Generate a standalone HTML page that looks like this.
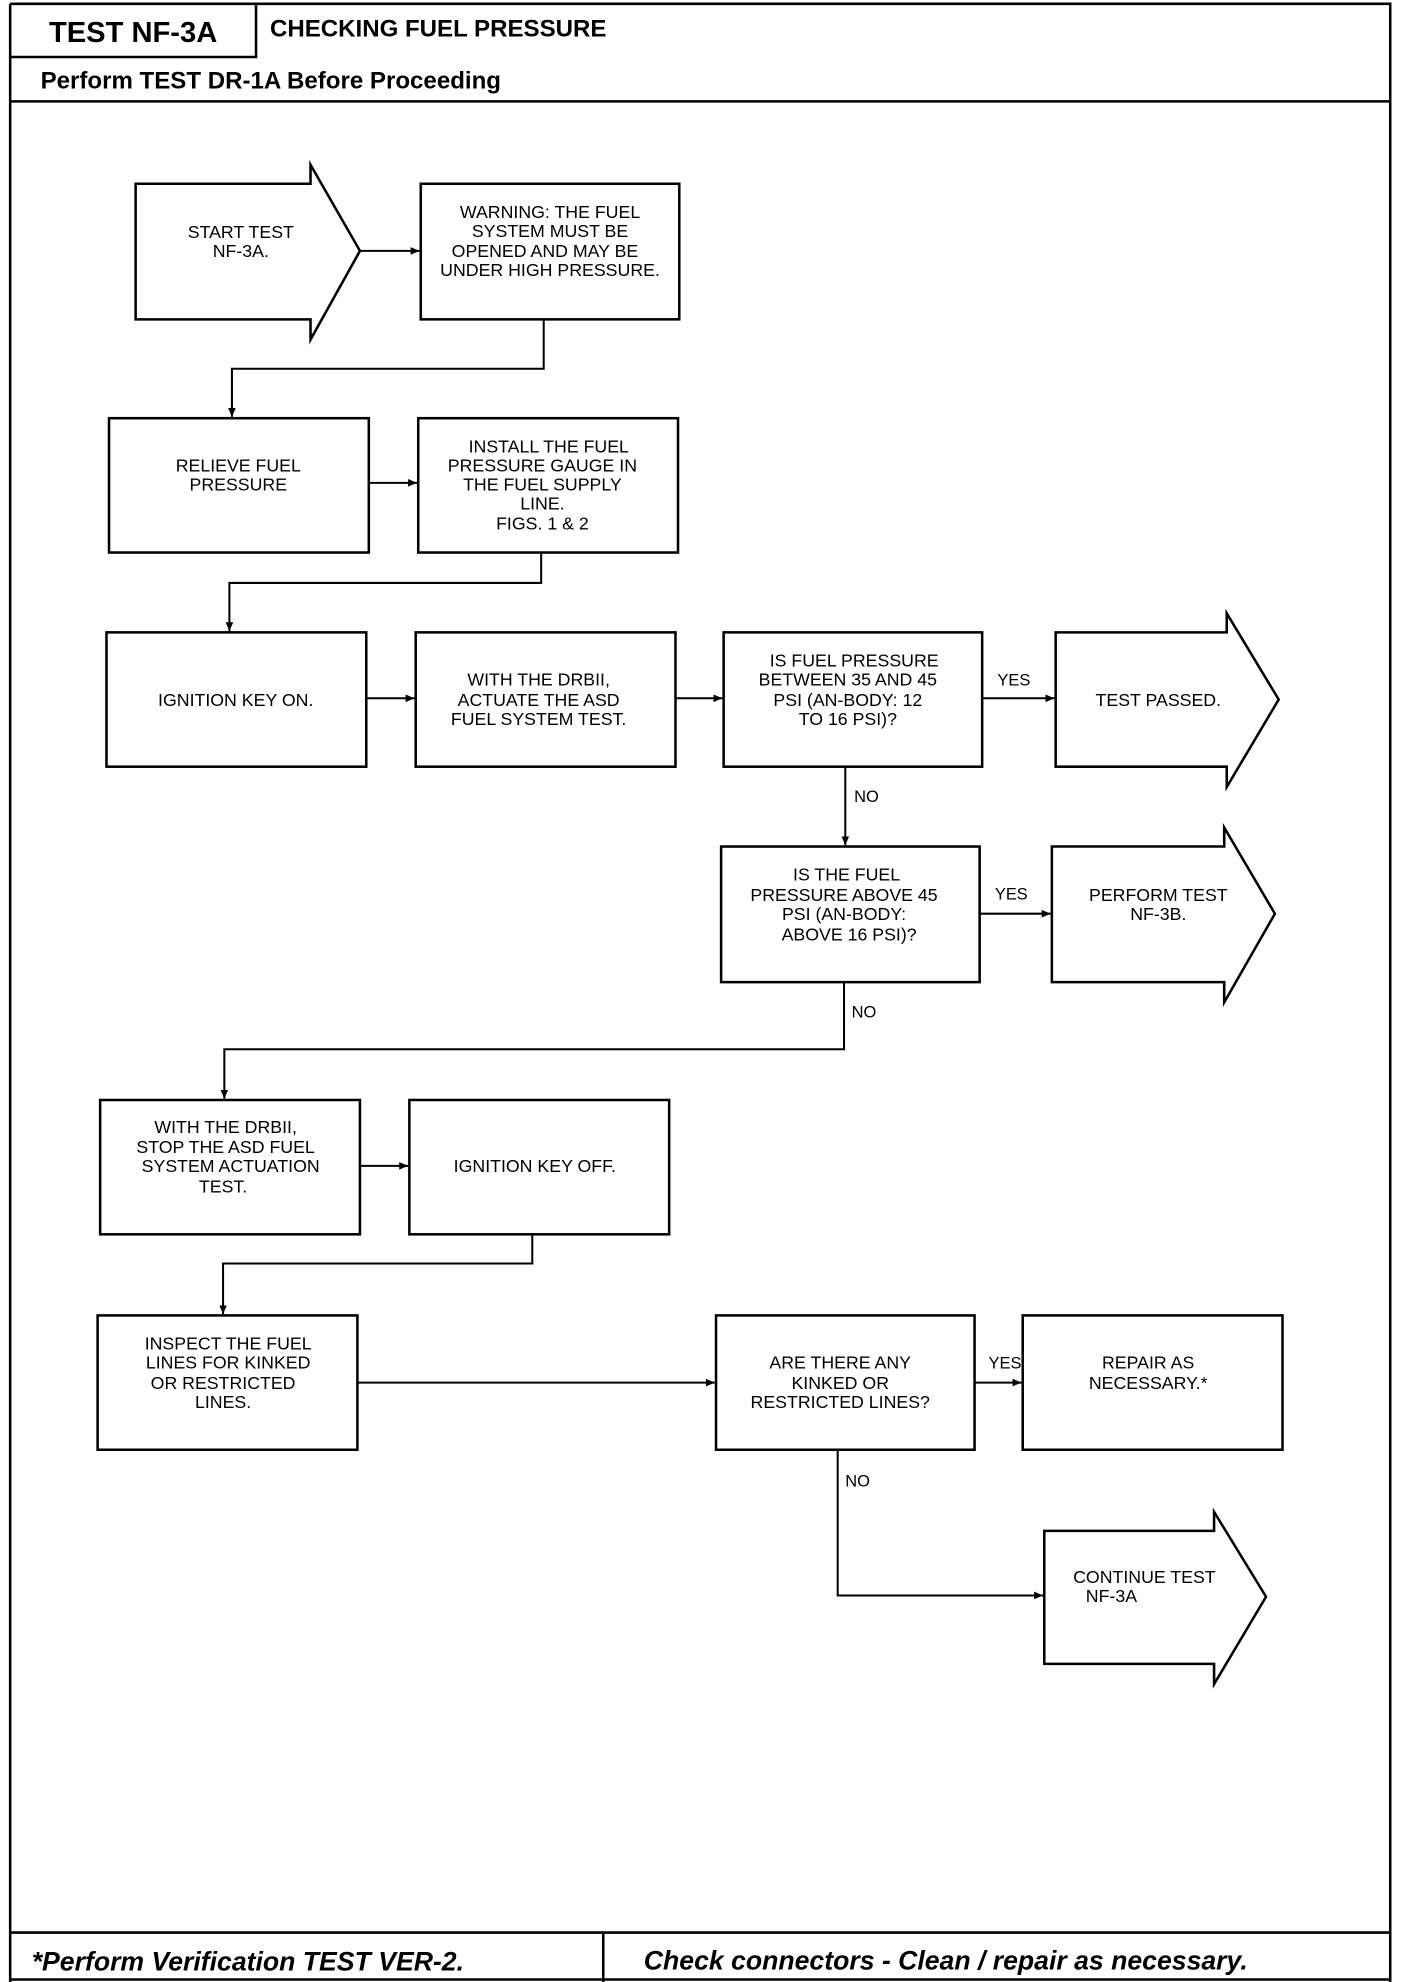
<!DOCTYPE html>
<html><head><meta charset="utf-8"><style>
html,body{margin:0;padding:0;background:#fff}
svg{display:block}
.t{font-family:"Liberation Sans Narrow","Liberation Sans",sans-serif;font-size:14px;text-anchor:middle;fill:#000}
.l{font-family:"Liberation Sans",sans-serif;font-size:13px;fill:#000}
</style></head><body>
<svg width="1408" height="1982" viewBox="0 0 1111 1564" xmlns="http://www.w3.org/2000/svg">
<defs><marker id="a" markerWidth="8" markerHeight="8" refX="7" refY="4" orient="auto" markerUnits="userSpaceOnUse"><path d="M0,1 L7,4 L0,7 z" fill="#000"/></marker></defs>
<g fill="none" stroke="#000" stroke-width="2">
<!-- frame -->
<path d="M8,3 H1097 V1564 M8,3 V1564 M8,45 H202 V3 M8,80 H1097 M8,1525 H1097 M476,1525 V1564 M8,1562 H1097"/>
<!-- shapes -->
<path d="M107,145 H245 V130 L284,198 L245,268 V252 H107 Z"/>
<rect x="332" y="145" width="204" height="107"/>
<rect x="86" y="330" width="205" height="106"/>
<rect x="330" y="330" width="205" height="106"/>
<rect x="84" y="499" width="205" height="106"/>
<rect x="328" y="499" width="205" height="106"/>
<rect x="571" y="499" width="204" height="106"/>
<path d="M833,499 H968 V484 L1009,552 L968,621 V605 H833 Z"/>
<rect x="569" y="668" width="204" height="107"/>
<path d="M830,668 H966 V653 L1006,721 L966,791 V775 H830 Z"/>
<rect x="79" y="868" width="205" height="106"/>
<rect x="323" y="868" width="205" height="106"/>
<rect x="77" y="1038" width="205" height="106"/>
<rect x="565" y="1038" width="204" height="106"/>
<rect x="807" y="1038" width="205" height="106"/>
<path d="M824,1208 H958 V1193 L999,1260 L958,1329 V1313 H824 Z"/>
</g>
<g fill="none" stroke="#000" stroke-width="1.6" marker-end="url(#a)">
<path d="M284,198 H331"/>
<path d="M429,252 V291 H183 V329"/>
<path d="M291,381 H329"/>
<path d="M427,436 V460 H181 V498"/>
<path d="M289,551 H327"/>
<path d="M533,551 H570"/>
<path d="M775,551 H832"/>
<path d="M667,605 V667"/>
<path d="M773,721 H829"/>
<path d="M666,775 V828 H177 V867"/>
<path d="M284,920 H322"/>
<path d="M420,974 V997 H176 V1037"/>
<path d="M282,1091 H564"/>
<path d="M769,1091 H806"/>
<path d="M661,1144 V1259 H823"/>
</g>
<text x="105" y="33" style="font-family:'Liberation Sans',sans-serif;font-weight:bold;font-size:23px;text-anchor:middle">TEST NF-3A</text>
<text x="213" y="29" style="font-family:'Liberation Sans',sans-serif;font-weight:bold;font-size:19px">CHECKING FUEL PRESSURE</text>
<text x="32" y="70" style="font-family:'Liberation Sans',sans-serif;font-weight:bold;font-size:19px">Perform TEST DR-1A Before Proceeding</text>
<text x="25" y="1555" style="font-family:'Liberation Sans',sans-serif;font-weight:bold;font-style:italic;font-size:21px">*Perform Verification TEST VER-2.</text>
<text x="508" y="1554" style="font-family:'Liberation Sans',sans-serif;font-weight:bold;font-style:italic;font-size:21px">Check connectors - Clean / repair as necessary.</text>
<g class="t">
<text x="190" y="188">START TEST</text><text x="190" y="203">NF-3A.</text>
<text x="434" y="172">WARNING:  THE FUEL</text><text x="434" y="187">SYSTEM MUST BE</text><text x="430" y="203">OPENED AND MAY BE</text><text x="434" y="218">UNDER HIGH PRESSURE.</text>
<text x="188" y="372">RELIEVE FUEL</text><text x="188" y="387">PRESSURE</text>
<text x="433" y="357">INSTALL THE FUEL</text><text x="428" y="372">PRESSURE GAUGE IN</text><text x="428" y="387">THE FUEL SUPPLY</text><text x="428" y="402">LINE.</text><text x="428" y="418">FIGS. 1 &amp; 2</text>
<text x="186" y="557">IGNITION KEY ON.</text>
<text x="425" y="541">WITH THE DRBII,</text><text x="425" y="557">ACTUATE THE ASD</text><text x="425" y="572">FUEL SYSTEM TEST.</text>
<text x="674" y="526">IS FUEL PRESSURE</text><text x="669" y="541">BETWEEN 35 AND 45</text><text x="669" y="557">PSI (AN-BODY: 12</text><text x="669" y="572">TO 16 PSI)?</text>
<text x="914" y="557">TEST PASSED.</text>
<text x="668" y="695">IS THE FUEL</text><text x="666" y="711">PRESSURE ABOVE 45</text><text x="666" y="726">PSI (AN-BODY:</text><text x="670" y="742">ABOVE 16 PSI)?</text>
<text x="914" y="711">PERFORM TEST</text><text x="914" y="726">NF-3B.</text>
<text x="178" y="894">WITH THE DRBII,</text><text x="178" y="910">STOP THE ASD FUEL</text><text x="182" y="925">SYSTEM ACTUATION</text><text x="176" y="941">TEST.</text>
<text x="422" y="925">IGNITION KEY OFF.</text>
<text x="180" y="1065">INSPECT THE FUEL</text><text x="180" y="1080">LINES FOR KINKED</text><text x="176" y="1096">OR RESTRICTED</text><text x="176" y="1111">LINES.</text>
<text x="663" y="1080">ARE THERE ANY</text><text x="663" y="1096">KINKED OR</text><text x="663" y="1111">RESTRICTED LINES?</text>
<text x="906" y="1080">REPAIR AS</text><text x="906" y="1096">NECESSARY.*</text>
<text x="903" y="1249">CONTINUE TEST</text><text x="877" y="1264">NF-3A</text>
</g>
<g class="l">
<text x="787" y="541">YES</text><text x="674" y="633">NO</text>
<text x="785" y="710">YES</text><text x="672" y="803">NO</text>
<text x="780" y="1080">YES</text><text x="667" y="1173">NO</text>
</g>
</svg>
</body></html>
